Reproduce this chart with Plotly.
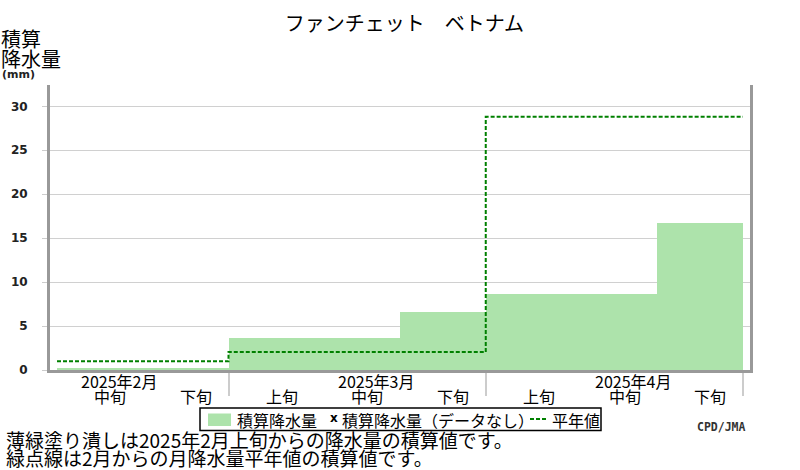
import plotly.graph_objects as go

# ---- data ----
title_text = "ファンチェット　ベトナム"
dekad_labels = ["中旬", "下旬", "上旬", "中旬", "下旬", "上旬", "中旬", "下旬"]
month_labels = ["2025年2月", "2025年3月", "2025年4月"]
dekads_per_month = [2, 3, 3]           # dekads shown for each month
cum_precip = [0.26, 0.26, 3.67, 3.67, 6.63, 8.67, 8.67, 16.7]   # mm, per dekad
normal_cum = [1.0, 2.05, 28.8]         # mm, monthly cumulative normal
y_ticks = [0, 5, 10, 15, 20, 25, 30]
legend_names = ["積算降水量", "積算降水量（データなし）", "平年値"]
notes = ["薄緑塗り潰しは2025年2月上旬からの降水量の積算値です。",
         "緑点線は2月からの月降水量平年値の積算値です。"]
credit = "CPD/JMA"

# ---- layout geometry (pixels) ----
W, H = 800, 470
L, R, T, B = 50, 750, 85, 370
def px(x):  # pixel x -> paper
    return (x - L) / (R - L)
def py(y):  # pixel y -> paper
    return (B - y) / (B - T)

JP = "Noto Sans CJK JP"
GREEN_FILL = "#ade3ab"
GREEN_LINE = "#008000"

n = len(cum_precip)
bar_x = [i + 0.5 for i in range(n)]

# month boundaries
bounds = [0]
for c in dekads_per_month:
    bounds.append(bounds[-1] + c)
norm_x = bounds[:]
norm_y = normal_cum + [normal_cum[-1]]

fig = go.Figure()
fig.add_trace(go.Bar(x=bar_x, y=cum_precip, width=1.0,
                     marker=dict(color=GREEN_FILL, line=dict(width=0)),
                     name=legend_names[0], showlegend=False, hoverinfo="skip"))
fig.add_trace(go.Scatter(x=norm_x, y=norm_y, mode="lines",
                         line=dict(color=GREEN_LINE, width=2, dash="4px,2px", shape="hv"),
                         name=legend_names[2], showlegend=False, hoverinfo="skip"))

annotations = []
# dekad labels
for i, lab in enumerate(dekad_labels):
    annotations.append(dict(x=i + 0.62, y=0, xref="x", yref="paper", text=lab,
                            showarrow=False, xanchor="center", yanchor="middle",
                            yshift=-(396 - B), font=dict(family=JP, size=16, color="#000")))
# month labels (centered over the 中旬 dekad of each month)
for m, lab in enumerate(month_labels):
    start = bounds[m]
    mid_idx = start + (0 if dekads_per_month[m] == 2 else 1)
    annotations.append(dict(x=mid_idx + 0.72, y=0, xref="x", yref="paper", text=lab,
                            showarrow=False, xanchor="center", yanchor="middle",
                            yshift=-(381 - B), font=dict(family=JP, size=16, color="#000")))

# y axis title
annotations += [
    dict(x=px(-1), y=py(39), xref="paper", yref="paper", text="積算", showarrow=False,
         xanchor="left", yanchor="middle", font=dict(family=JP, size=20, color="#000")),
    dict(x=px(-1), y=py(59), xref="paper", yref="paper", text="降水量", showarrow=False,
         xanchor="left", yanchor="middle", font=dict(family=JP, size=20, color="#000")),
    dict(x=px(0), y=py(74), xref="paper", yref="paper", text="(mm)", showarrow=False,
         xanchor="left", yanchor="middle",
         font=dict(family="DejaVu Sans", size=11, color="#222", weight="bold")),
]

# legend (custom)
annotations += [
    dict(x=px(235), y=py(419.5), xref="paper", yref="paper", text=legend_names[0],
         showarrow=False, xanchor="left", yanchor="middle", font=dict(family=JP, size=16, color="#000")),
    dict(x=px(333.5), y=py(418), xref="paper", yref="paper", text="x",
         showarrow=False, xanchor="center", yanchor="middle",
         font=dict(family="DejaVu Sans", size=12, color="#000", weight="bold")),
    dict(x=px(340), y=py(419.5), xref="paper", yref="paper", text=legend_names[1],
         showarrow=False, xanchor="left", yanchor="middle", font=dict(family=JP, size=16, color="#000")),
    dict(x=px(550), y=py(419.5), xref="paper", yref="paper", text=legend_names[2],
         showarrow=False, xanchor="left", yanchor="middle", font=dict(family=JP, size=16, color="#000")),
]
# notes
for k, t in enumerate(notes):
    annotations.append(dict(x=px(4), y=py(440 + 17 * k), xref="paper", yref="paper", text=t,
                            showarrow=False, xanchor="left", yanchor="middle",
                            font=dict(family=JP, size=19, color="#000")))
annotations.append(dict(x=px(748), y=py(427), xref="paper", yref="paper", text=credit,
                        showarrow=False, xanchor="right", yanchor="middle",
                        font=dict(family="DejaVu Sans Mono", size=11.5, color="#333", weight="bold")))

shapes = [
    dict(type="rect", xref="paper", yref="paper", x0=px(200), x1=px(601), y0=py(408), y1=py(430.5),
         line=dict(color="#000", width=1.5), fillcolor="rgba(0,0,0,0)"),
    dict(type="rect", xref="paper", yref="paper", x0=px(208), x1=px(231), y0=py(413.5), y1=py(426),
         line=dict(width=0), fillcolor=GREEN_FILL),
    dict(type="line", xref="paper", yref="paper", x0=px(530), x1=px(547), y0=py(419), y1=py(419),
         line=dict(color=GREEN_LINE, width=2, dash="4px,2px")),
]

x_left = -(57 - L) / 85.75
x_right = 8 + (R - 743) / 85.75
y_top = (B - T) / 8.79

fig.update_layout(
    width=W, height=H,
    margin=dict(l=L, r=W - R, t=T, b=H - B),
    paper_bgcolor="white", plot_bgcolor="white",
    title=dict(text=title_text, x=405 / W, y=1 - 23.5 / H, xref="paper", yref="container",
               xanchor="center", yanchor="middle", font=dict(family=JP, size=20, color="#000")),
    xaxis=dict(range=[x_left, x_right], showgrid=False, zeroline=False,
               tickvals=bounds[1:], ticktext=["" for _ in bounds[1:]],
               ticks="outside", ticklen=23, tickwidth=1.5, tickcolor="#cccccc",
               showline=True, linecolor="#999999", linewidth=3, fixedrange=True),
    yaxis=dict(range=[0, y_top], tickvals=y_ticks, ticktext=[str(v) for v in y_ticks],
               showgrid=True, gridcolor="#d0d0d0", gridwidth=1, zeroline=False,
               ticks="outside", ticklen=5, tickcolor="#cccccc", tickwidth=1,
               ticklabelstandoff=12,
               tickfont=dict(family="DejaVu Sans", size=12, color="#222", weight="bold"),
               showline=True, mirror=True, linecolor="#999999", linewidth=3, fixedrange=True),
    bargap=0, showlegend=False,
    annotations=annotations, shapes=shapes,
)

fig.write_html("out.html", config={"displayModeBar": False},
               post_script="document.body.style.margin='0px';")
